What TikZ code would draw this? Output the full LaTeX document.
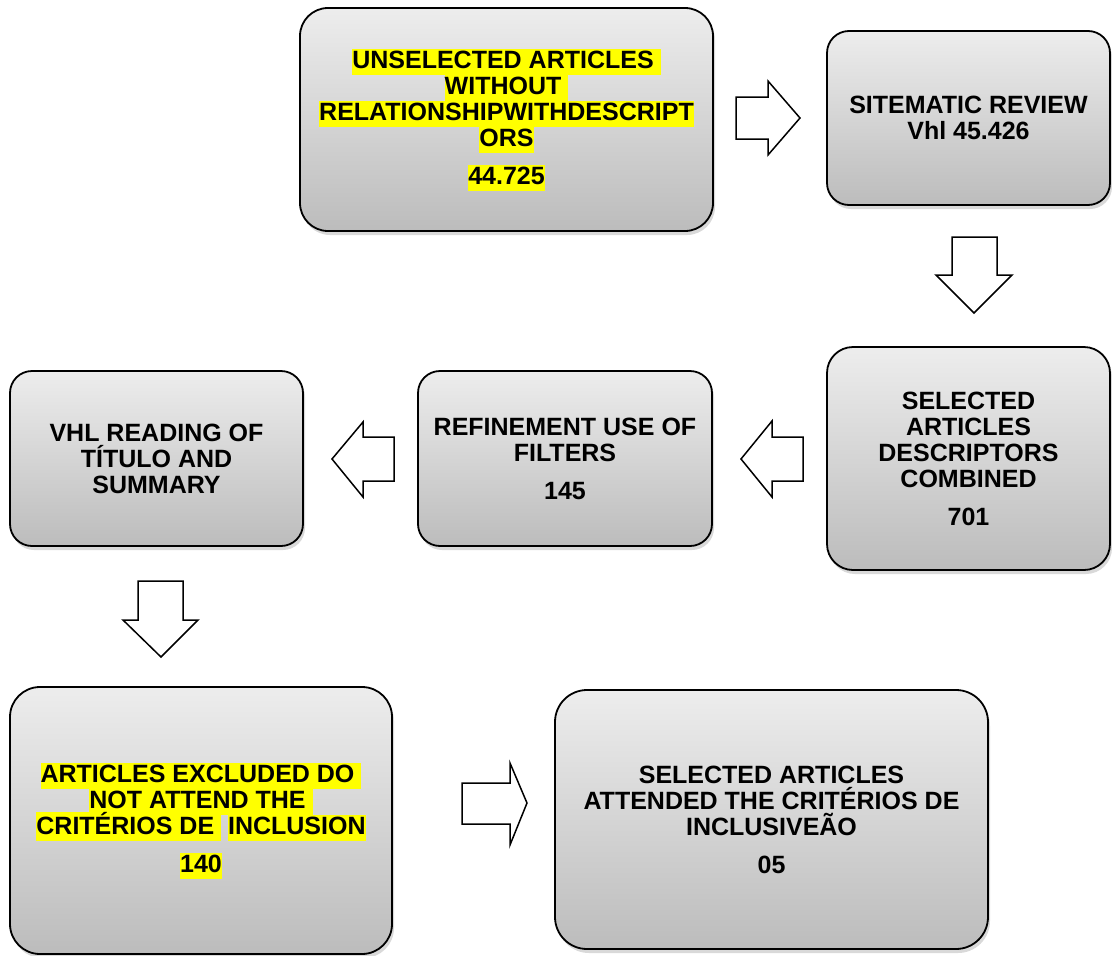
\documentclass[tikz,border=0pt]{standalone}
\usepackage{fontspec}
\setmainfont{Liberation Sans}
\usetikzlibrary{shadows}
\definecolor{boxtop}{RGB}{237,237,237}
\definecolor{boxbot}{RGB}{188,188,188}
\definecolor{hlyellow}{RGB}{255,255,0}
\newcommand{\hlt}[1]{{\setlength{\fboxsep}{0pt}\colorbox{hlyellow}{\rule[-6pt]{0pt}{26pt}#1}}}
\tikzset{
  flowbox/.style={draw=black, line width=1.8pt, rounded corners=#1,
    top color=boxtop, bottom color=boxbot, align=center, inner sep=0pt,
    font=\fontsize{25}{26}\selectfont\bfseries,
    drop shadow={shadow xshift=2pt, shadow yshift=-4pt, opacity=0.3}},
  flowbox/.default=24pt,
  blockarrow/.style={draw=black, line width=1.5pt, fill=white, line join=miter}
}
\begin{document}
\setlength{\lineskiplimit}{-100pt}
\begin{tikzpicture}[x=1pt,y=-1pt]
\useasboundingbox (0,0) rectangle (1112,956);
% boxes
\node[flowbox=28pt, minimum width=413pt, minimum height=223pt] (b1) at (506.5,119.5)
  {\hlt{UNSELECTED ARTICLES\ }\\ \hlt{WITHOUT\ }\\ \hlt{RELATIONSHIPWITHDESCRIPT}\\ \hlt{ORS}\\[12pt] \hlt{44.725}};
\node[flowbox=22pt, minimum width=283pt, minimum height=174pt] (b2) at (968.5,118)
  {SITEMATIC REVIEW\\ Vhl 45.426};
\node[flowbox=26pt, minimum width=283pt, minimum height=223pt] (b3) at (968.5,458.5)
  {SELECTED\\ ARTICLES\\ DESCRIPTORS\\ COMBINED\\[12pt] 701};
\node[flowbox=22pt, minimum width=294pt, minimum height=175pt] (b4) at (565,458.5)
  {REFINEMENT USE OF\\ FILTERS\\[12pt] 145};
\node[flowbox=22pt, minimum width=293pt, minimum height=175pt] (b5) at (156.5,458.5)
  {VHL READING OF\\ TÍTULO AND\\ SUMMARY};
\node[flowbox=30pt, minimum width=382pt, minimum height=267pt] (b6) at (201,820.5)
  {\hlt{ARTICLES EXCLUDED DO\ }\\ \hlt{NOT ATTEND THE\ }\\ \hlt{CRITÉRIOS DE\ }\ \hlt{INCLUSION}\\[12pt] \hlt{140}};
\node[flowbox=32pt, minimum width=433pt, minimum height=259pt] (b7) at (771.5,819.5)
  {SELECTED ARTICLES\\ ATTENDED THE CRITÉRIOS DE\\ INCLUSIVEÃO\\[12pt] 05};
% block arrows
\draw[blockarrow] (736,97) -- (768,97) -- (768,81) -- (800,118) -- (768,155) -- (768,139) -- (736,139) -- cycle;
\draw[blockarrow] (952,237) -- (997,237) -- (997,275) -- (1012,275) -- (974,313) -- (936,275) -- (952,275) -- cycle;
\draw[blockarrow] (803,437) -- (772,437) -- (772,421) -- (741,459) -- (772,497) -- (772,481) -- (803,481) -- cycle;
\draw[blockarrow] (394,437) -- (363,437) -- (363,422) -- (332,459) -- (363,497) -- (363,481) -- (394,481) -- cycle;
\draw[blockarrow] (138,581) -- (183,581) -- (183,620) -- (198,620) -- (161,657) -- (123,620) -- (138,620) -- cycle;
\draw[blockarrow] (462,783) -- (510,783) -- (510,763) -- (527,803) -- (510,845) -- (510,824) -- (462,824) -- cycle;
\end{tikzpicture}
\end{document}
